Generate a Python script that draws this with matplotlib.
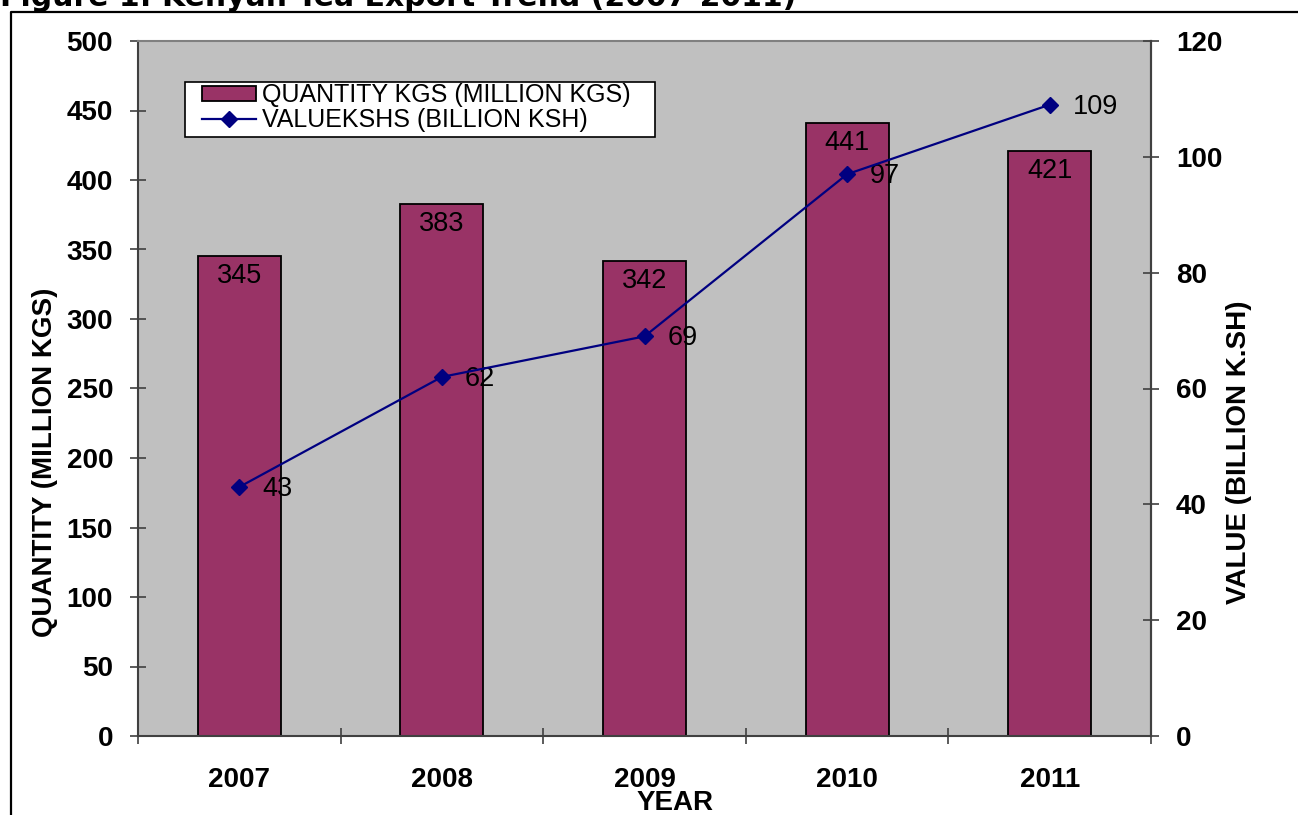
import numpy as np
import matplotlib.pyplot as plt
from matplotlib.patches import Rectangle
from matplotlib.lines import Line2D

years = ['2007', '2008', '2009', '2010', '2011']
quantity = [345, 383, 342, 441, 421]   # million kgs
value = [43, 62, 69, 97, 109]          # billion ksh

plt.rcParams['font.family'] = ['Liberation Sans', 'DejaVu Sans']

W, H = 1298, 815
fig = plt.figure(figsize=(W / 100, H / 100), dpi=100)
ax = fig.add_axes([138 / W, 1 - 736 / H, (1151 - 138) / W, (736 - 41) / H])
ax.set_facecolor('#C0C0C0')

x = np.arange(len(years))
bars = ax.bar(x, quantity, width=0.41, color='#993366', edgecolor='black',
              linewidth=1.3, zorder=2, label='QUANTITY KGS (MILLION KGS)')
for xi, q in zip(x, quantity):
    ax.annotate(str(q), (xi, q), xytext=(0, -20), textcoords='offset pixels',
                ha='center', va='center', fontsize=19.5, zorder=3)

ax.set_xlim(-0.5, len(years) - 0.5)
ax.set_ylim(0, 500)
ax.set_yticks(np.arange(0, 501, 50))
ax.set_xticks(x)
ax.set_xticklabels(years)
ax.set_xticks(np.arange(-0.5, len(years), 1), minor=True)
ax.tick_params(axis='x', which='major', length=0, pad=22, labelsize=20)
ax.tick_params(axis='x', which='minor', direction='inout', length=12, width=1.2, color='#404040')
ax.tick_params(axis='y', direction='inout', length=12, width=1.2, color='#404040',
               pad=12, labelsize=20)
for lab in ax.get_xticklabels() + ax.get_yticklabels():
    lab.set_fontweight('bold')

ax2 = ax.twinx()
line, = ax2.plot(x, value, color='#000080', marker='D', markersize=8, lw=1.6,
                 label='VALUEKSHS (BILLION KSH)', zorder=4)
for xi, v in zip(x, value):
    ax2.annotate(str(v), (xi, v), xytext=(23, -2), textcoords='offset pixels',
                 ha='left', va='center', fontsize=19.5)
ax2.set_ylim(0, 120)
ax2.set_yticks(np.arange(0, 121, 20))
ax2.tick_params(axis='y', direction='inout', length=12, width=1.2, color='#404040',
                pad=12, labelsize=20)
for lab in ax2.get_yticklabels():
    lab.set_fontweight('bold')

for a in (ax, ax2):
    for s in a.spines.values():
        s.set_color('#404040')
        s.set_linewidth(1.5)
ax.spines['top'].set_color('#808080')
for s in ('left', 'top', 'bottom'):
    ax2.spines[s].set_visible(False)

# axis titles
fig.text(45 / W, 1 - 462 / H, 'QUANTITY (MILLION KGS)', rotation=90, ha='center',
         va='center', fontsize=20, fontweight='bold')
fig.text(1239 / W, 1 - 452 / H, 'VALUE (BILLION K.SH)', rotation=90, ha='center',
         va='center', fontsize=20, fontweight='bold')
fig.text(675 / W, 1 - 803 / H, 'YEAR', ha='center', va='center', fontsize=20,
         fontweight='bold')

# legend with its own box
fig.add_artist(Rectangle((185 / W, 1 - 137 / H), 470 / W, 55 / H, transform=fig.transFigure,
                         facecolor='white', edgecolor='black', linewidth=1.2, zorder=1))
fig.legend(handles=[bars, line], loc='upper left', bbox_to_anchor=(202 / W, 1 - 83 / H),
           frameon=False, fontsize=18, borderpad=0, borderaxespad=0, handlelength=2.17,
           handleheight=0.55, handletextpad=0.24, labelspacing=0.05)

# outer frame and caption, cut at the top edge as in the source image
fig.add_artist(Line2D([11 / W, 11 / W, 1], [0, 1 - 12 / H, 1 - 12 / H],
                      transform=fig.transFigure, color='black', lw=1.6))
fig.text(0.0, 1 - 6 / H, 'Figure 1: Kenyan Tea Export Trend (2007-2011)', ha='left',
         va='baseline', fontsize=21.5, fontweight='bold', family='DejaVu Sans')

fig.savefig('out.png', dpi=100)
